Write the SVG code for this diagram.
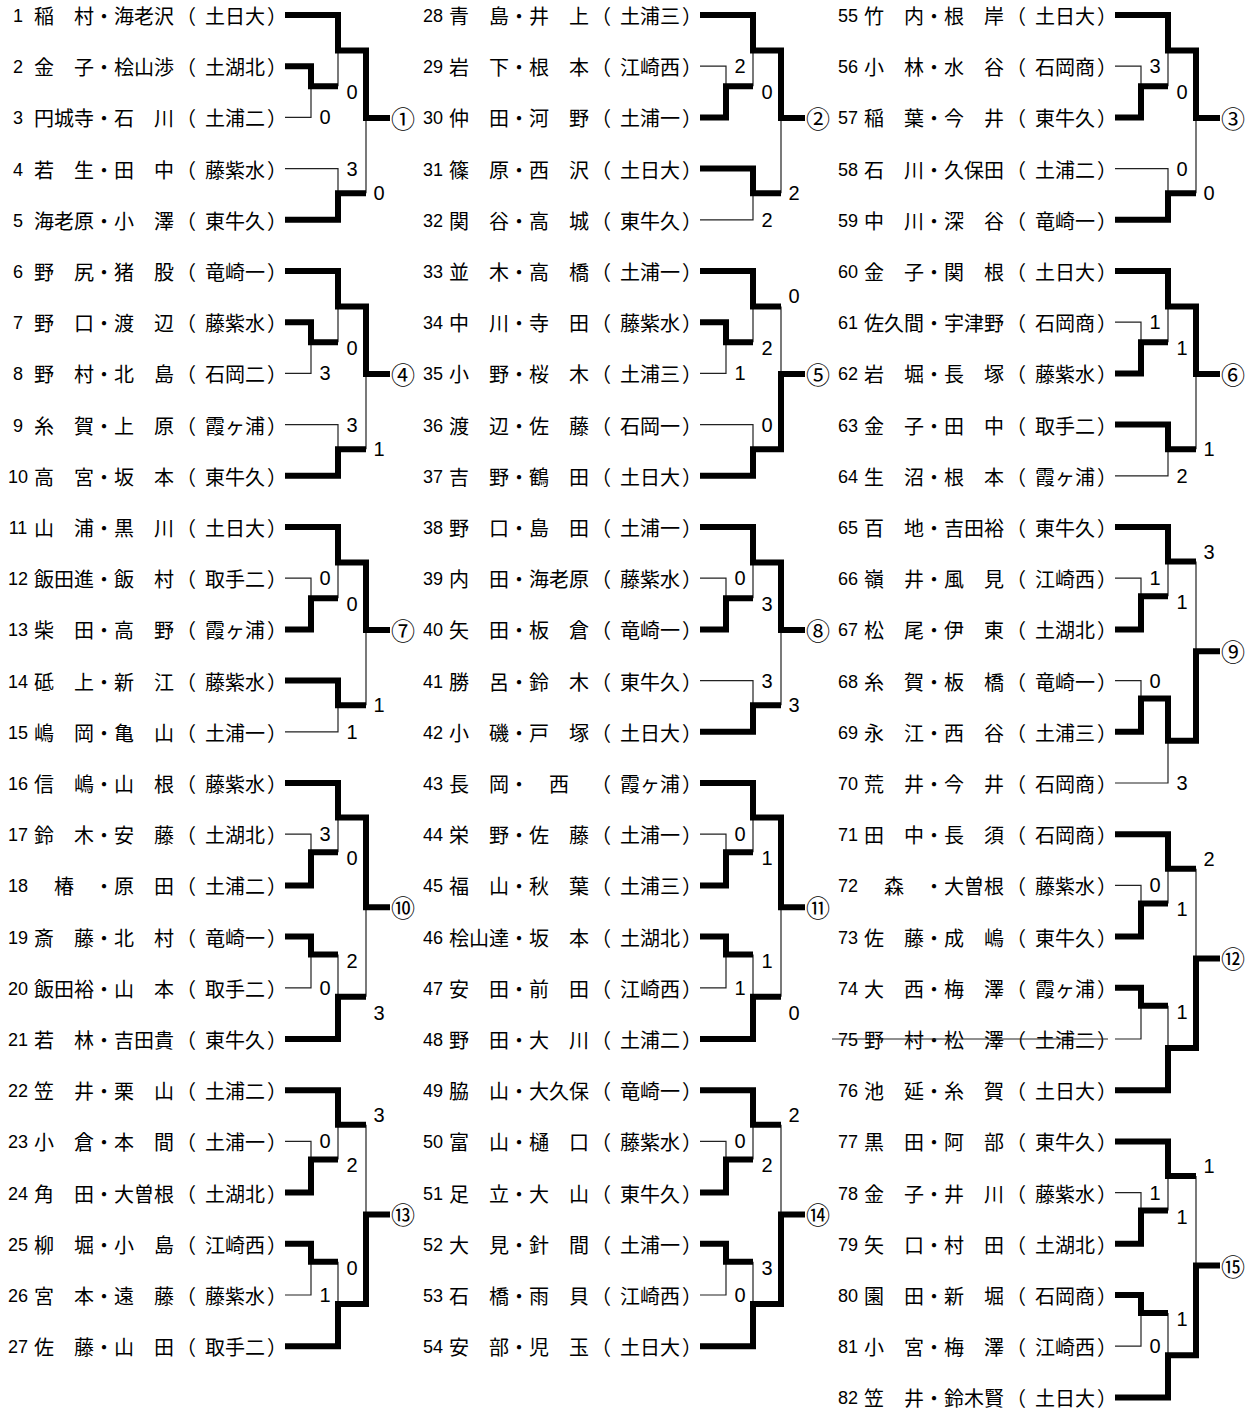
<svg xmlns="http://www.w3.org/2000/svg" width="1260" height="1410" viewBox="0 0 1260 1410">
<style>
.n{font-family:"Liberation Sans",Arial,sans-serif;font-size:18px;text-anchor:middle;fill:#000}
.j{font-family:"Noto Sans CJK JP","Noto Sans CJK SC",sans-serif;font-size:20px;fill:#000}
.s{font-family:"Liberation Sans",Arial,sans-serif;font-size:20px;text-anchor:middle;fill:#000}
.c{font-family:"Noto Sans CJK JP","Noto Sans CJK SC",sans-serif;font-size:24px;fill:#000}
.tk{fill:none;stroke:#000;stroke-width:6;stroke-linejoin:miter}
.tn{fill:none;stroke:#222;stroke-width:1.2}
</style>
<rect width="1260" height="1410" fill="#fff"/>
<g id="players">
<g id="p1" transform="translate(0,15)"><text class="n" x="18" y="7">1</text><text class="j" y="9"><tspan x="34">稲　村・海老沢</tspan><tspan x="176">（</tspan><tspan x="205">土日大</tspan><tspan x="267">）</tspan></text></g>
<g id="p2" transform="translate(0,66.2)"><text class="n" x="18" y="7">2</text><text class="j" y="9"><tspan x="34">金　子・桧山渉</tspan><tspan x="176">（</tspan><tspan x="205">土湖北</tspan><tspan x="267">）</tspan></text></g>
<g id="p3" transform="translate(0,117.4)"><text class="n" x="18" y="7">3</text><text class="j" y="9"><tspan x="34">円城寺・石　川</tspan><tspan x="176">（</tspan><tspan x="205">土浦二</tspan><tspan x="267">）</tspan></text></g>
<g id="p4" transform="translate(0,168.6)"><text class="n" x="18" y="7">4</text><text class="j" y="9"><tspan x="34">若　生・田　中</tspan><tspan x="176">（</tspan><tspan x="205">藤紫水</tspan><tspan x="267">）</tspan></text></g>
<g id="p5" transform="translate(0,219.8)"><text class="n" x="18" y="7">5</text><text class="j" y="9"><tspan x="34">海老原・小　澤</tspan><tspan x="176">（</tspan><tspan x="205">東牛久</tspan><tspan x="267">）</tspan></text></g>
<g id="p6" transform="translate(0,271)"><text class="n" x="18" y="7">6</text><text class="j" y="9"><tspan x="34">野　尻・猪　股</tspan><tspan x="176">（</tspan><tspan x="205">竜崎一</tspan><tspan x="267">）</tspan></text></g>
<g id="p7" transform="translate(0,322.2)"><text class="n" x="18" y="7">7</text><text class="j" y="9"><tspan x="34">野　口・渡　辺</tspan><tspan x="176">（</tspan><tspan x="205">藤紫水</tspan><tspan x="267">）</tspan></text></g>
<g id="p8" transform="translate(0,373.4)"><text class="n" x="18" y="7">8</text><text class="j" y="9"><tspan x="34">野　村・北　島</tspan><tspan x="176">（</tspan><tspan x="205">石岡二</tspan><tspan x="267">）</tspan></text></g>
<g id="p9" transform="translate(0,424.6)"><text class="n" x="18" y="7">9</text><text class="j" y="9"><tspan x="34">糸　賀・上　原</tspan><tspan x="176">（</tspan><tspan x="205">霞ヶ浦</tspan><tspan x="267">）</tspan></text></g>
<g id="p10" transform="translate(0,475.8)"><text class="n" x="18" y="7">10</text><text class="j" y="9"><tspan x="34">高　宮・坂　本</tspan><tspan x="176">（</tspan><tspan x="205">東牛久</tspan><tspan x="267">）</tspan></text></g>
<g id="p11" transform="translate(0,527)"><text class="n" x="18" y="7">11</text><text class="j" y="9"><tspan x="34">山　浦・黒　川</tspan><tspan x="176">（</tspan><tspan x="205">土日大</tspan><tspan x="267">）</tspan></text></g>
<g id="p12" transform="translate(0,578.2)"><text class="n" x="18" y="7">12</text><text class="j" y="9"><tspan x="34">飯田進・飯　村</tspan><tspan x="176">（</tspan><tspan x="205">取手二</tspan><tspan x="267">）</tspan></text></g>
<g id="p13" transform="translate(0,629.4)"><text class="n" x="18" y="7">13</text><text class="j" y="9"><tspan x="34">柴　田・高　野</tspan><tspan x="176">（</tspan><tspan x="205">霞ヶ浦</tspan><tspan x="267">）</tspan></text></g>
<g id="p14" transform="translate(0,680.6)"><text class="n" x="18" y="7">14</text><text class="j" y="9"><tspan x="34">砥　上・新　江</tspan><tspan x="176">（</tspan><tspan x="205">藤紫水</tspan><tspan x="267">）</tspan></text></g>
<g id="p15" transform="translate(0,731.8)"><text class="n" x="18" y="7">15</text><text class="j" y="9"><tspan x="34">嶋　岡・亀　山</tspan><tspan x="176">（</tspan><tspan x="205">土浦一</tspan><tspan x="267">）</tspan></text></g>
<g id="p16" transform="translate(0,783)"><text class="n" x="18" y="7">16</text><text class="j" y="9"><tspan x="34">信　嶋・山　根</tspan><tspan x="176">（</tspan><tspan x="205">藤紫水</tspan><tspan x="267">）</tspan></text></g>
<g id="p17" transform="translate(0,834.2)"><text class="n" x="18" y="7">17</text><text class="j" y="9"><tspan x="34">鈴　木・安　藤</tspan><tspan x="176">（</tspan><tspan x="205">土湖北</tspan><tspan x="267">）</tspan></text></g>
<g id="p18" transform="translate(0,885.4)"><text class="n" x="18" y="7">18</text><text class="j" y="9"><tspan x="34">　椿　・原　田</tspan><tspan x="176">（</tspan><tspan x="205">土浦二</tspan><tspan x="267">）</tspan></text></g>
<g id="p19" transform="translate(0,936.6)"><text class="n" x="18" y="7">19</text><text class="j" y="9"><tspan x="34">斎　藤・北　村</tspan><tspan x="176">（</tspan><tspan x="205">竜崎一</tspan><tspan x="267">）</tspan></text></g>
<g id="p20" transform="translate(0,987.8)"><text class="n" x="18" y="7">20</text><text class="j" y="9"><tspan x="34">飯田裕・山　本</tspan><tspan x="176">（</tspan><tspan x="205">取手二</tspan><tspan x="267">）</tspan></text></g>
<g id="p21" transform="translate(0,1039)"><text class="n" x="18" y="7">21</text><text class="j" y="9"><tspan x="34">若　林・吉田貴</tspan><tspan x="176">（</tspan><tspan x="205">東牛久</tspan><tspan x="267">）</tspan></text></g>
<g id="p22" transform="translate(0,1090.2)"><text class="n" x="18" y="7">22</text><text class="j" y="9"><tspan x="34">笠　井・栗　山</tspan><tspan x="176">（</tspan><tspan x="205">土浦二</tspan><tspan x="267">）</tspan></text></g>
<g id="p23" transform="translate(0,1141.4)"><text class="n" x="18" y="7">23</text><text class="j" y="9"><tspan x="34">小　倉・本　間</tspan><tspan x="176">（</tspan><tspan x="205">土浦一</tspan><tspan x="267">）</tspan></text></g>
<g id="p24" transform="translate(0,1192.6)"><text class="n" x="18" y="7">24</text><text class="j" y="9"><tspan x="34">角　田・大曽根</tspan><tspan x="176">（</tspan><tspan x="205">土湖北</tspan><tspan x="267">）</tspan></text></g>
<g id="p25" transform="translate(0,1243.8)"><text class="n" x="18" y="7">25</text><text class="j" y="9"><tspan x="34">柳　堀・小　島</tspan><tspan x="176">（</tspan><tspan x="205">江崎西</tspan><tspan x="267">）</tspan></text></g>
<g id="p26" transform="translate(0,1295)"><text class="n" x="18" y="7">26</text><text class="j" y="9"><tspan x="34">宮　本・遠　藤</tspan><tspan x="176">（</tspan><tspan x="205">藤紫水</tspan><tspan x="267">）</tspan></text></g>
<g id="p27" transform="translate(0,1346.2)"><text class="n" x="18" y="7">27</text><text class="j" y="9"><tspan x="34">佐　藤・山　田</tspan><tspan x="176">（</tspan><tspan x="205">取手二</tspan><tspan x="267">）</tspan></text></g>
<g id="p28" transform="translate(415,15)"><text class="n" x="18" y="7">28</text><text class="j" y="9"><tspan x="34">青　島・井　上</tspan><tspan x="176">（</tspan><tspan x="205">土浦三</tspan><tspan x="267">）</tspan></text></g>
<g id="p29" transform="translate(415,66.2)"><text class="n" x="18" y="7">29</text><text class="j" y="9"><tspan x="34">岩　下・根　本</tspan><tspan x="176">（</tspan><tspan x="205">江崎西</tspan><tspan x="267">）</tspan></text></g>
<g id="p30" transform="translate(415,117.4)"><text class="n" x="18" y="7">30</text><text class="j" y="9"><tspan x="34">仲　田・河　野</tspan><tspan x="176">（</tspan><tspan x="205">土浦一</tspan><tspan x="267">）</tspan></text></g>
<g id="p31" transform="translate(415,168.6)"><text class="n" x="18" y="7">31</text><text class="j" y="9"><tspan x="34">篠　原・西　沢</tspan><tspan x="176">（</tspan><tspan x="205">土日大</tspan><tspan x="267">）</tspan></text></g>
<g id="p32" transform="translate(415,219.8)"><text class="n" x="18" y="7">32</text><text class="j" y="9"><tspan x="34">関　谷・高　城</tspan><tspan x="176">（</tspan><tspan x="205">東牛久</tspan><tspan x="267">）</tspan></text></g>
<g id="p33" transform="translate(415,271)"><text class="n" x="18" y="7">33</text><text class="j" y="9"><tspan x="34">並　木・高　橋</tspan><tspan x="176">（</tspan><tspan x="205">土浦一</tspan><tspan x="267">）</tspan></text></g>
<g id="p34" transform="translate(415,322.2)"><text class="n" x="18" y="7">34</text><text class="j" y="9"><tspan x="34">中　川・寺　田</tspan><tspan x="176">（</tspan><tspan x="205">藤紫水</tspan><tspan x="267">）</tspan></text></g>
<g id="p35" transform="translate(415,373.4)"><text class="n" x="18" y="7">35</text><text class="j" y="9"><tspan x="34">小　野・桜　木</tspan><tspan x="176">（</tspan><tspan x="205">土浦三</tspan><tspan x="267">）</tspan></text></g>
<g id="p36" transform="translate(415,424.6)"><text class="n" x="18" y="7">36</text><text class="j" y="9"><tspan x="34">渡　辺・佐　藤</tspan><tspan x="176">（</tspan><tspan x="205">石岡一</tspan><tspan x="267">）</tspan></text></g>
<g id="p37" transform="translate(415,475.8)"><text class="n" x="18" y="7">37</text><text class="j" y="9"><tspan x="34">吉　野・鶴　田</tspan><tspan x="176">（</tspan><tspan x="205">土日大</tspan><tspan x="267">）</tspan></text></g>
<g id="p38" transform="translate(415,527)"><text class="n" x="18" y="7">38</text><text class="j" y="9"><tspan x="34">野　口・島　田</tspan><tspan x="176">（</tspan><tspan x="205">土浦一</tspan><tspan x="267">）</tspan></text></g>
<g id="p39" transform="translate(415,578.2)"><text class="n" x="18" y="7">39</text><text class="j" y="9"><tspan x="34">内　田・海老原</tspan><tspan x="176">（</tspan><tspan x="205">藤紫水</tspan><tspan x="267">）</tspan></text></g>
<g id="p40" transform="translate(415,629.4)"><text class="n" x="18" y="7">40</text><text class="j" y="9"><tspan x="34">矢　田・板　倉</tspan><tspan x="176">（</tspan><tspan x="205">竜崎一</tspan><tspan x="267">）</tspan></text></g>
<g id="p41" transform="translate(415,680.6)"><text class="n" x="18" y="7">41</text><text class="j" y="9"><tspan x="34">勝　呂・鈴　木</tspan><tspan x="176">（</tspan><tspan x="205">東牛久</tspan><tspan x="267">）</tspan></text></g>
<g id="p42" transform="translate(415,731.8)"><text class="n" x="18" y="7">42</text><text class="j" y="9"><tspan x="34">小　磯・戸　塚</tspan><tspan x="176">（</tspan><tspan x="205">土日大</tspan><tspan x="267">）</tspan></text></g>
<g id="p43" transform="translate(415,783)"><text class="n" x="18" y="7">43</text><text class="j" y="9"><tspan x="34">長　岡・　西　</tspan><tspan x="176">（</tspan><tspan x="205">霞ヶ浦</tspan><tspan x="267">）</tspan></text></g>
<g id="p44" transform="translate(415,834.2)"><text class="n" x="18" y="7">44</text><text class="j" y="9"><tspan x="34">栄　野・佐　藤</tspan><tspan x="176">（</tspan><tspan x="205">土浦一</tspan><tspan x="267">）</tspan></text></g>
<g id="p45" transform="translate(415,885.4)"><text class="n" x="18" y="7">45</text><text class="j" y="9"><tspan x="34">福　山・秋　葉</tspan><tspan x="176">（</tspan><tspan x="205">土浦三</tspan><tspan x="267">）</tspan></text></g>
<g id="p46" transform="translate(415,936.6)"><text class="n" x="18" y="7">46</text><text class="j" y="9"><tspan x="34">桧山達・坂　本</tspan><tspan x="176">（</tspan><tspan x="205">土湖北</tspan><tspan x="267">）</tspan></text></g>
<g id="p47" transform="translate(415,987.8)"><text class="n" x="18" y="7">47</text><text class="j" y="9"><tspan x="34">安　田・前　田</tspan><tspan x="176">（</tspan><tspan x="205">江崎西</tspan><tspan x="267">）</tspan></text></g>
<g id="p48" transform="translate(415,1039)"><text class="n" x="18" y="7">48</text><text class="j" y="9"><tspan x="34">野　田・大　川</tspan><tspan x="176">（</tspan><tspan x="205">土浦二</tspan><tspan x="267">）</tspan></text></g>
<g id="p49" transform="translate(415,1090.2)"><text class="n" x="18" y="7">49</text><text class="j" y="9"><tspan x="34">脇　山・大久保</tspan><tspan x="176">（</tspan><tspan x="205">竜崎一</tspan><tspan x="267">）</tspan></text></g>
<g id="p50" transform="translate(415,1141.4)"><text class="n" x="18" y="7">50</text><text class="j" y="9"><tspan x="34">富　山・樋　口</tspan><tspan x="176">（</tspan><tspan x="205">藤紫水</tspan><tspan x="267">）</tspan></text></g>
<g id="p51" transform="translate(415,1192.6)"><text class="n" x="18" y="7">51</text><text class="j" y="9"><tspan x="34">足　立・大　山</tspan><tspan x="176">（</tspan><tspan x="205">東牛久</tspan><tspan x="267">）</tspan></text></g>
<g id="p52" transform="translate(415,1243.8)"><text class="n" x="18" y="7">52</text><text class="j" y="9"><tspan x="34">大　見・針　間</tspan><tspan x="176">（</tspan><tspan x="205">土浦一</tspan><tspan x="267">）</tspan></text></g>
<g id="p53" transform="translate(415,1295)"><text class="n" x="18" y="7">53</text><text class="j" y="9"><tspan x="34">石　橋・雨　貝</tspan><tspan x="176">（</tspan><tspan x="205">江崎西</tspan><tspan x="267">）</tspan></text></g>
<g id="p54" transform="translate(415,1346.2)"><text class="n" x="18" y="7">54</text><text class="j" y="9"><tspan x="34">安　部・児　玉</tspan><tspan x="176">（</tspan><tspan x="205">土日大</tspan><tspan x="267">）</tspan></text></g>
<g id="p55" transform="translate(830,15)"><text class="n" x="18" y="7">55</text><text class="j" y="9"><tspan x="34">竹　内・根　岸</tspan><tspan x="176">（</tspan><tspan x="205">土日大</tspan><tspan x="267">）</tspan></text></g>
<g id="p56" transform="translate(830,66.2)"><text class="n" x="18" y="7">56</text><text class="j" y="9"><tspan x="34">小　林・水　谷</tspan><tspan x="176">（</tspan><tspan x="205">石岡商</tspan><tspan x="267">）</tspan></text></g>
<g id="p57" transform="translate(830,117.4)"><text class="n" x="18" y="7">57</text><text class="j" y="9"><tspan x="34">稲　葉・今　井</tspan><tspan x="176">（</tspan><tspan x="205">東牛久</tspan><tspan x="267">）</tspan></text></g>
<g id="p58" transform="translate(830,168.6)"><text class="n" x="18" y="7">58</text><text class="j" y="9"><tspan x="34">石　川・久保田</tspan><tspan x="176">（</tspan><tspan x="205">土浦二</tspan><tspan x="267">）</tspan></text></g>
<g id="p59" transform="translate(830,219.8)"><text class="n" x="18" y="7">59</text><text class="j" y="9"><tspan x="34">中　川・深　谷</tspan><tspan x="176">（</tspan><tspan x="205">竜崎一</tspan><tspan x="267">）</tspan></text></g>
<g id="p60" transform="translate(830,271)"><text class="n" x="18" y="7">60</text><text class="j" y="9"><tspan x="34">金　子・関　根</tspan><tspan x="176">（</tspan><tspan x="205">土日大</tspan><tspan x="267">）</tspan></text></g>
<g id="p61" transform="translate(830,322.2)"><text class="n" x="18" y="7">61</text><text class="j" y="9"><tspan x="34">佐久間・宇津野</tspan><tspan x="176">（</tspan><tspan x="205">石岡商</tspan><tspan x="267">）</tspan></text></g>
<g id="p62" transform="translate(830,373.4)"><text class="n" x="18" y="7">62</text><text class="j" y="9"><tspan x="34">岩　堀・長　塚</tspan><tspan x="176">（</tspan><tspan x="205">藤紫水</tspan><tspan x="267">）</tspan></text></g>
<g id="p63" transform="translate(830,424.6)"><text class="n" x="18" y="7">63</text><text class="j" y="9"><tspan x="34">金　子・田　中</tspan><tspan x="176">（</tspan><tspan x="205">取手二</tspan><tspan x="267">）</tspan></text></g>
<g id="p64" transform="translate(830,475.8)"><text class="n" x="18" y="7">64</text><text class="j" y="9"><tspan x="34">生　沼・根　本</tspan><tspan x="176">（</tspan><tspan x="205">霞ヶ浦</tspan><tspan x="267">）</tspan></text></g>
<g id="p65" transform="translate(830,527)"><text class="n" x="18" y="7">65</text><text class="j" y="9"><tspan x="34">百　地・吉田裕</tspan><tspan x="176">（</tspan><tspan x="205">東牛久</tspan><tspan x="267">）</tspan></text></g>
<g id="p66" transform="translate(830,578.2)"><text class="n" x="18" y="7">66</text><text class="j" y="9"><tspan x="34">嶺　井・風　見</tspan><tspan x="176">（</tspan><tspan x="205">江崎西</tspan><tspan x="267">）</tspan></text></g>
<g id="p67" transform="translate(830,629.4)"><text class="n" x="18" y="7">67</text><text class="j" y="9"><tspan x="34">松　尾・伊　東</tspan><tspan x="176">（</tspan><tspan x="205">土湖北</tspan><tspan x="267">）</tspan></text></g>
<g id="p68" transform="translate(830,680.6)"><text class="n" x="18" y="7">68</text><text class="j" y="9"><tspan x="34">糸　賀・板　橋</tspan><tspan x="176">（</tspan><tspan x="205">竜崎一</tspan><tspan x="267">）</tspan></text></g>
<g id="p69" transform="translate(830,731.8)"><text class="n" x="18" y="7">69</text><text class="j" y="9"><tspan x="34">永　江・西　谷</tspan><tspan x="176">（</tspan><tspan x="205">土浦三</tspan><tspan x="267">）</tspan></text></g>
<g id="p70" transform="translate(830,783)"><text class="n" x="18" y="7">70</text><text class="j" y="9"><tspan x="34">荒　井・今　井</tspan><tspan x="176">（</tspan><tspan x="205">石岡商</tspan><tspan x="267">）</tspan></text></g>
<g id="p71" transform="translate(830,834.2)"><text class="n" x="18" y="7">71</text><text class="j" y="9"><tspan x="34">田　中・長　須</tspan><tspan x="176">（</tspan><tspan x="205">石岡商</tspan><tspan x="267">）</tspan></text></g>
<g id="p72" transform="translate(830,885.4)"><text class="n" x="18" y="7">72</text><text class="j" y="9"><tspan x="34">　森　・大曽根</tspan><tspan x="176">（</tspan><tspan x="205">藤紫水</tspan><tspan x="267">）</tspan></text></g>
<g id="p73" transform="translate(830,936.6)"><text class="n" x="18" y="7">73</text><text class="j" y="9"><tspan x="34">佐　藤・成　嶋</tspan><tspan x="176">（</tspan><tspan x="205">東牛久</tspan><tspan x="267">）</tspan></text></g>
<g id="p74" transform="translate(830,987.8)"><text class="n" x="18" y="7">74</text><text class="j" y="9"><tspan x="34">大　西・梅　澤</tspan><tspan x="176">（</tspan><tspan x="205">霞ヶ浦</tspan><tspan x="267">）</tspan></text></g>
<g id="p75" transform="translate(830,1039)"><text class="n" x="18" y="7">75</text><text class="j" y="9"><tspan x="34">野　村・松　澤</tspan><tspan x="176">（</tspan><tspan x="205">土浦二</tspan><tspan x="267">）</tspan></text><line class="tn" x1="2" y1="0" x2="278" y2="0"/></g>
<g id="p76" transform="translate(830,1090.2)"><text class="n" x="18" y="7">76</text><text class="j" y="9"><tspan x="34">池　延・糸　賀</tspan><tspan x="176">（</tspan><tspan x="205">土日大</tspan><tspan x="267">）</tspan></text></g>
<g id="p77" transform="translate(830,1141.4)"><text class="n" x="18" y="7">77</text><text class="j" y="9"><tspan x="34">黒　田・阿　部</tspan><tspan x="176">（</tspan><tspan x="205">東牛久</tspan><tspan x="267">）</tspan></text></g>
<g id="p78" transform="translate(830,1192.6)"><text class="n" x="18" y="7">78</text><text class="j" y="9"><tspan x="34">金　子・井　川</tspan><tspan x="176">（</tspan><tspan x="205">藤紫水</tspan><tspan x="267">）</tspan></text></g>
<g id="p79" transform="translate(830,1243.8)"><text class="n" x="18" y="7">79</text><text class="j" y="9"><tspan x="34">矢　口・村　田</tspan><tspan x="176">（</tspan><tspan x="205">土湖北</tspan><tspan x="267">）</tspan></text></g>
<g id="p80" transform="translate(830,1295)"><text class="n" x="18" y="7">80</text><text class="j" y="9"><tspan x="34">園　田・新　堀</tspan><tspan x="176">（</tspan><tspan x="205">石岡商</tspan><tspan x="267">）</tspan></text></g>
<g id="p81" transform="translate(830,1346.2)"><text class="n" x="18" y="7">81</text><text class="j" y="9"><tspan x="34">小　宮・梅　澤</tspan><tspan x="176">（</tspan><tspan x="205">江崎西</tspan><tspan x="267">）</tspan></text></g>
<g id="p82" transform="translate(830,1397.4)"><text class="n" x="18" y="7">82</text><text class="j" y="9"><tspan x="34">笠　井・鈴木賢</tspan><tspan x="176">（</tspan><tspan x="205">土日大</tspan><tspan x="267">）</tspan></text></g>
</g>
<g id="connectors">
<g id="b1">
<path class="tn" d="M338,86.2V50.6M285,117.4H311V86.2M285,168.6H338V193.2M366,193.2V117.9"/>
<path class="tk" d="M285,15H338V50.6H366V117.9H390M285,66.2H311V86.2H338M285,219.8H338V193.2H366"/>
<text class="s" x="325" y="124.4">0</text><text class="s" x="352" y="99.2">0</text><text class="s" x="352" y="175.6">3</text><text class="s" x="379" y="200.2">0</text>
</g>
<g id="b4">
<path class="tn" d="M338,342.2V306.6M285,373.4H311V342.2M285,424.6H338V449.2M366,449.2V373.9"/>
<path class="tk" d="M285,271H338V306.6H366V373.9H390M285,322.2H311V342.2H338M285,475.8H338V449.2H366"/>
<text class="s" x="325" y="380.4">3</text><text class="s" x="352" y="355.2">0</text><text class="s" x="352" y="431.6">3</text><text class="s" x="379" y="456.2">1</text>
</g>
<g id="b7">
<path class="tn" d="M285,578.2H311V598.2M338,598.2V562.6M366,705.2V629.9M285,731.8H338V705.2"/>
<path class="tk" d="M285,527H338V562.6H366V629.9H390M285,629.4H311V598.2H338M285,680.6H338V705.2H366"/>
<text class="s" x="325" y="585.2">0</text><text class="s" x="352" y="611.2">0</text><text class="s" x="352" y="738.8">1</text><text class="s" x="379" y="712.2">1</text>
</g>
<g id="b10">
<path class="tn" d="M285,834.2H311V852.2M338,852.2V817.6M338,954.6V996.8M285,987.8H311V954.6M366,996.8V907.2"/>
<path class="tk" d="M285,783H338V817.6H366V907.2H390M285,885.4H311V852.2H338M285,936.6H311V954.6H338M285,1039H338V996.8H366"/>
<text class="s" x="325" y="841.2">3</text><text class="s" x="352" y="865.2">0</text><text class="s" x="352" y="967.6">2</text><text class="s" x="325" y="994.8">0</text><text class="s" x="379" y="1019.8">3</text>
</g>
<g id="b13">
<path class="tn" d="M366,1124.8V1214.4M285,1141.4H311V1159.4M338,1159.4V1124.8M338,1261.8V1304M285,1295H311V1261.8"/>
<path class="tk" d="M285,1090.2H338V1124.8H366M285,1192.6H311V1159.4H338M285,1243.8H311V1261.8H338M285,1346.2H338V1304H366V1214.4H390"/>
<text class="s" x="379" y="1121.8">3</text><text class="s" x="325" y="1148.4">0</text><text class="s" x="352" y="1172.4">2</text><text class="s" x="352" y="1274.8">0</text><text class="s" x="325" y="1302">1</text>
</g>
<g id="b2">
<path class="tn" d="M700,66.2H726V86.2M753,86.2V50.6M781,193.2V117.9M700,219.8H753V193.2"/>
<path class="tk" d="M700,15H753V50.6H781V117.9H805M700,117.4H726V86.2H753M700,168.6H753V193.2H781"/>
<text class="s" x="740" y="73.2">2</text><text class="s" x="767" y="99.2">0</text><text class="s" x="794" y="200.2">2</text><text class="s" x="767" y="226.8">2</text>
</g>
<g id="b5">
<path class="tn" d="M781,306.6V373.9M753,342.2V306.6M700,373.4H726V342.2M700,424.6H753V449.2"/>
<path class="tk" d="M700,271H753V306.6H781M700,322.2H726V342.2H753M700,475.8H753V449.2H781V373.9H805"/>
<text class="s" x="794" y="302.6">0</text><text class="s" x="767" y="355.2">2</text><text class="s" x="740" y="380.4">1</text><text class="s" x="767" y="431.6">0</text>
</g>
<g id="b8">
<path class="tn" d="M700,578.2H726V598.2M753,598.2V562.6M700,680.6H753V705.2M781,705.2V629.9"/>
<path class="tk" d="M700,527H753V562.6H781V629.9H805M700,629.4H726V598.2H753M700,731.8H753V705.2H781"/>
<text class="s" x="740" y="585.2">0</text><text class="s" x="767" y="611.2">3</text><text class="s" x="767" y="687.6">3</text><text class="s" x="794" y="712.2">3</text>
</g>
<g id="b11">
<path class="tn" d="M700,834.2H726V852.2M753,852.2V817.6M753,954.6V996.8M700,987.8H726V954.6M781,996.8V907.2"/>
<path class="tk" d="M700,783H753V817.6H781V907.2H805M700,885.4H726V852.2H753M700,936.6H726V954.6H753M700,1039H753V996.8H781"/>
<text class="s" x="740" y="841.2">0</text><text class="s" x="767" y="865.2">1</text><text class="s" x="767" y="967.6">1</text><text class="s" x="740" y="994.8">1</text><text class="s" x="794" y="1019.8">0</text>
</g>
<g id="b14">
<path class="tn" d="M781,1124.8V1214.4M700,1141.4H726V1159.4M753,1159.4V1124.8M753,1261.8V1304M700,1295H726V1261.8"/>
<path class="tk" d="M700,1090.2H753V1124.8H781M700,1192.6H726V1159.4H753M700,1243.8H726V1261.8H753M700,1346.2H753V1304H781V1214.4H805"/>
<text class="s" x="794" y="1121.8">2</text><text class="s" x="740" y="1148.4">0</text><text class="s" x="767" y="1172.4">2</text><text class="s" x="767" y="1274.8">3</text><text class="s" x="740" y="1302">0</text>
</g>
<g id="b3">
<path class="tn" d="M1115,66.2H1141V86.2M1168,86.2V50.6M1115,168.6H1168V193.2M1196,193.2V117.9"/>
<path class="tk" d="M1115,15H1168V50.6H1196V117.9H1220M1115,117.4H1141V86.2H1168M1115,219.8H1168V193.2H1196"/>
<text class="s" x="1155" y="73.2">3</text><text class="s" x="1182" y="99.2">0</text><text class="s" x="1182" y="175.6">0</text><text class="s" x="1209" y="200.2">0</text>
</g>
<g id="b6">
<path class="tn" d="M1115,322.2H1141V342.2M1168,342.2V306.6M1196,449.2V373.9M1115,475.8H1168V449.2"/>
<path class="tk" d="M1115,271H1168V306.6H1196V373.9H1220M1115,373.4H1141V342.2H1168M1115,424.6H1168V449.2H1196"/>
<text class="s" x="1155" y="329.2">1</text><text class="s" x="1182" y="355.2">1</text><text class="s" x="1209" y="456.2">1</text><text class="s" x="1182" y="482.8">2</text>
</g>
<g id="b9">
<path class="tn" d="M1196,561.6V651.2M1115,578.2H1141V596.2M1168,596.2V561.6M1115,680.6H1141V698.6M1115,783H1168V740.8"/>
<path class="tk" d="M1115,527H1168V561.6H1196M1115,629.4H1141V596.2H1168M1115,731.8H1141V698.6H1168V740.8H1196V651.2H1220"/>
<text class="s" x="1209" y="558.6">3</text><text class="s" x="1155" y="585.2">1</text><text class="s" x="1182" y="609.2">1</text><text class="s" x="1155" y="687.6">0</text><text class="s" x="1182" y="790">3</text>
</g>
<g id="b12">
<path class="tn" d="M1196,868.8V958.4M1115,885.4H1141V903.4M1168,903.4V868.8M1168,1005.8V1048M1115,1039H1141V1005.8"/>
<path class="tk" d="M1115,834.2H1168V868.8H1196M1115,936.6H1141V903.4H1168M1115,987.8H1141V1005.8H1168M1115,1090.2H1168V1048H1196V958.4H1220"/>
<text class="s" x="1209" y="865.8">2</text><text class="s" x="1155" y="892.4">0</text><text class="s" x="1182" y="916.4">1</text><text class="s" x="1182" y="1018.8">1</text>
</g>
<g id="b15">
<path class="tn" d="M1196,1176V1265.6M1115,1192.6H1141V1210.6M1168,1210.6V1176M1168,1313V1355.2M1115,1346.2H1141V1313"/>
<path class="tk" d="M1115,1141.4H1168V1176H1196M1115,1243.8H1141V1210.6H1168M1115,1295H1141V1313H1168M1115,1397.4H1168V1355.2H1196V1265.6H1220"/>
<text class="s" x="1209" y="1173">1</text><text class="s" x="1155" y="1199.6">1</text><text class="s" x="1182" y="1223.6">1</text><text class="s" x="1182" y="1326">1</text><text class="s" x="1155" y="1353.2">0</text>
</g>
</g>
<g id="results">
<text class="c" x="391" y="127.9">①</text>
<text class="c" x="806" y="127.9">②</text>
<text class="c" x="1221" y="127.9">③</text>
<text class="c" x="391" y="383.9">④</text>
<text class="c" x="806" y="383.9">⑤</text>
<text class="c" x="1221" y="383.9">⑥</text>
<text class="c" x="391" y="639.9">⑦</text>
<text class="c" x="806" y="639.9">⑧</text>
<text class="c" x="1221" y="661.2">⑨</text>
<text class="c" x="391" y="917.2">⑩</text>
<text class="c" x="806" y="917.2">⑪</text>
<text class="c" x="1221" y="968.4">⑫</text>
<text class="c" x="391" y="1224.4">⑬</text>
<text class="c" x="806" y="1224.4">⑭</text>
<text class="c" x="1221" y="1275.6">⑮</text>
</g>
</svg>
